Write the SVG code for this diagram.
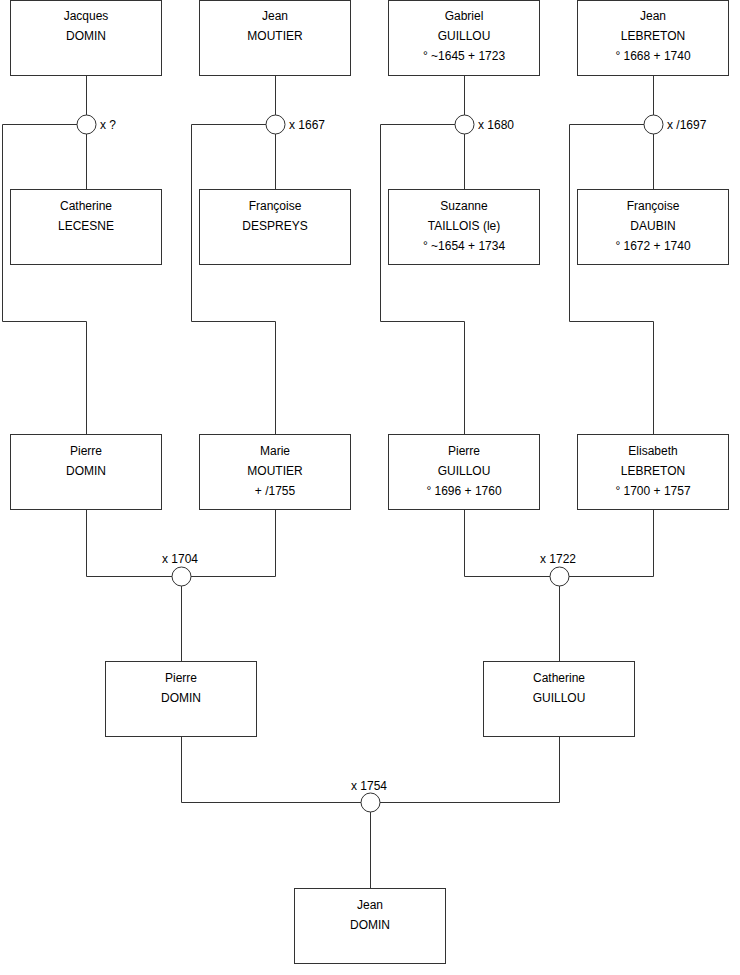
<svg xmlns="http://www.w3.org/2000/svg" width="740" height="975" viewBox="0 0 740 975">
<style>
.box{fill:#fff;stroke:#333;stroke-width:1}
.c{fill:#fff;stroke:#333;stroke-width:1}
.l{fill:none;stroke:#333;stroke-width:1}
text{font-family:"Liberation Sans",Arial,sans-serif;font-size:12px;fill:#000}
.m{text-anchor:middle}
</style>
<rect width="740" height="975" fill="#fff"/>
<g id="connectors">
<path class="l" d="M86.5 76V189M86.5 124.5H2.5V321.5H86.5V434"/>
<path class="l" d="M275.5 76V189M275.5 124.5H191.5V321.5H275.5V434"/>
<path class="l" d="M464.5 76V189M464.5 124.5H380.5V321.5H464.5V434"/>
<path class="l" d="M653.5 76V189M653.5 124.5H569.5V321.5H653.5V434"/>
<path class="l" d="M86.5 510V576.5H275.5V510M181.5 576.5V661"/>
<path class="l" d="M464.5 510V576.5H653.5V510M559.5 576.5V661"/>
<path class="l" d="M181.5 737V802.5H559.5V737M370.5 802.5V888"/>
</g>
<g id="m1"><circle class="c" cx="86.5" cy="124.5" r="9.5"/><text x="100" y="128.5">x ?</text></g>
<g id="m2"><circle class="c" cx="275.5" cy="124.5" r="9.5"/><text x="289" y="128.5">x 1667</text></g>
<g id="m3"><circle class="c" cx="464.5" cy="124.5" r="9.5"/><text x="478" y="128.5">x 1680</text></g>
<g id="m4"><circle class="c" cx="653.5" cy="124.5" r="9.5"/><text x="667" y="128.5">x /1697</text></g>
<g id="m5"><circle class="c" cx="181.5" cy="576.5" r="9.5"/><text class="m" x="180" y="562.5">x 1704</text></g>
<g id="m6"><circle class="c" cx="559.5" cy="576.5" r="9.5"/><text class="m" x="558" y="562.5">x 1722</text></g>
<g id="m7"><circle class="c" cx="370.5" cy="802.5" r="9.5"/><text class="m" x="369" y="789.5">x 1754</text></g>

<g id="n1"><rect class="box" x="10.5" y="0.5" width="151" height="75"/><text class="m" x="86" y="19.5">Jacques</text><text class="m" x="86" y="39.5">DOMIN</text></g>
<g id="n2"><rect class="box" x="199.5" y="0.5" width="151" height="75"/><text class="m" x="275" y="19.5">Jean</text><text class="m" x="275" y="39.5">MOUTIER</text></g>
<g id="n3"><rect class="box" x="388.5" y="0.5" width="151" height="75"/><text class="m" x="464" y="19.5">Gabriel</text><text class="m" x="464" y="39.5">GUILLOU</text><text class="m" x="464" y="59.5">° ~1645 + 1723</text></g>
<g id="n4"><rect class="box" x="577.5" y="0.5" width="151" height="75"/><text class="m" x="653" y="19.5">Jean</text><text class="m" x="653" y="39.5">LEBRETON</text><text class="m" x="653" y="59.5">° 1668 + 1740</text></g>

<g id="n5"><rect class="box" x="10.5" y="189.5" width="151" height="75"/><text class="m" x="86" y="209.5">Catherine</text><text class="m" x="86" y="229.5">LECESNE</text></g>
<g id="n6"><rect class="box" x="199.5" y="189.5" width="151" height="75"/><text class="m" x="275" y="209.5">Françoise</text><text class="m" x="275" y="229.5">DESPREYS</text></g>
<g id="n7"><rect class="box" x="388.5" y="189.5" width="151" height="75"/><text class="m" x="464" y="209.5">Suzanne</text><text class="m" x="464" y="229.5">TAILLOIS (le)</text><text class="m" x="464" y="249.5">° ~1654 + 1734</text></g>
<g id="n8"><rect class="box" x="577.5" y="189.5" width="151" height="75"/><text class="m" x="653" y="209.5">Françoise</text><text class="m" x="653" y="229.5">DAUBIN</text><text class="m" x="653" y="249.5">° 1672 + 1740</text></g>

<g id="n9"><rect class="box" x="10.5" y="434.5" width="151" height="75"/><text class="m" x="86" y="454.5">Pierre</text><text class="m" x="86" y="474.5">DOMIN</text></g>
<g id="n10"><rect class="box" x="199.5" y="434.5" width="151" height="75"/><text class="m" x="275" y="454.5">Marie</text><text class="m" x="275" y="474.5">MOUTIER</text><text class="m" x="275" y="494.5">+ /1755</text></g>
<g id="n11"><rect class="box" x="388.5" y="434.5" width="151" height="75"/><text class="m" x="464" y="454.5">Pierre</text><text class="m" x="464" y="474.5">GUILLOU</text><text class="m" x="464" y="494.5">° 1696 + 1760</text></g>
<g id="n12"><rect class="box" x="577.5" y="434.5" width="151" height="75"/><text class="m" x="653" y="454.5">Elisabeth</text><text class="m" x="653" y="474.5">LEBRETON</text><text class="m" x="653" y="494.5">° 1700 + 1757</text></g>

<g id="n13"><rect class="box" x="105.5" y="661.5" width="151" height="75"/><text class="m" x="181" y="681.5">Pierre</text><text class="m" x="181" y="701.5">DOMIN</text></g>
<g id="n14"><rect class="box" x="483.5" y="661.5" width="151" height="75"/><text class="m" x="559" y="681.5">Catherine</text><text class="m" x="559" y="701.5">GUILLOU</text></g>

<g id="n15"><rect class="box" x="294.5" y="888.5" width="151" height="75"/><text class="m" x="370" y="908.5">Jean</text><text class="m" x="370" y="928.5">DOMIN</text></g>
</svg>
